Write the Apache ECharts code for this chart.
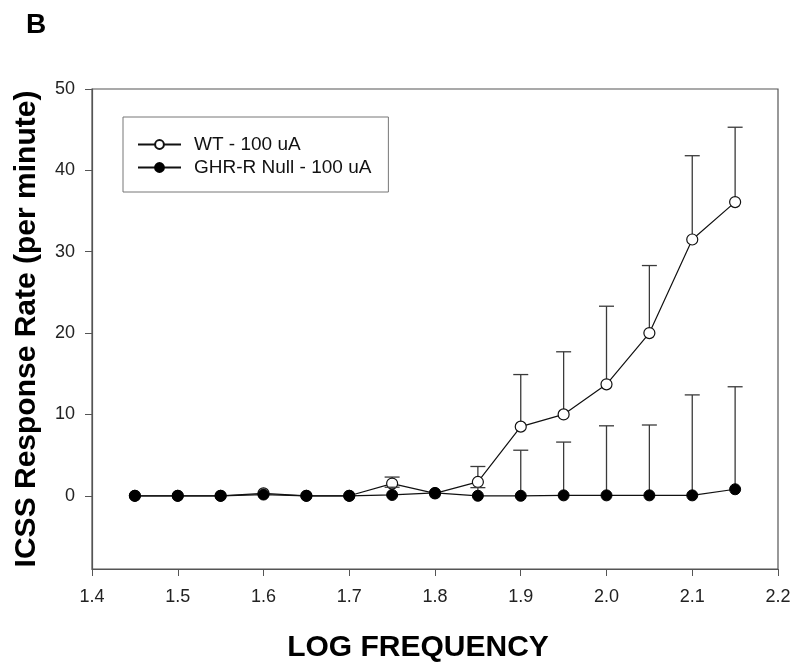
<!DOCTYPE html>
<html>
<head>
<meta charset="utf-8">
<script src="https://cdn.jsdelivr.net/npm/echarts@6/dist/echarts.min.js"></script>
<style>html,body{margin:0;padding:0;background:#fff}#c{width:800px;height:668px}</style>
</head>
<body>
<div id="c"></div>
<script>
// ---- data ----
const logFreq = [1.45, 1.50, 1.55, 1.60, 1.65, 1.70, 1.75, 1.80, 1.85, 1.90, 1.95, 2.00, 2.05, 2.10, 2.15];
const wtMean  = [0, 0, 0, 0.3, 0, 0, 1.5, 0.3, 1.7, 8.5, 10.0, 13.7, 20.0, 31.5, 36.1];
const wtUpper = [null, null, null, null, null, null, 2.3, null, 3.6, 14.9, 17.7, 23.3, 28.3, 41.8, 45.3];
const nullMean  = [0, 0, 0, 0.15, 0, 0, 0.1, 0.35, 0, 0, 0.05, 0.05, 0.05, 0.05, 0.8];
const nullUpper = [null, null, null, null, null, null, 1.05, null, 1.0, 5.6, 6.6, 8.6, 8.7, 12.4, 13.4];
const xTicks = [1.4, 1.5, 1.6, 1.7, 1.8, 1.9, 2.0, 2.1, 2.2];
const yTicks = [0, 10, 20, 30, 40, 50];
const seriesNames = ['WT - 100 uA', 'GHR-R Null - 100 uA'];

const pairs = (xs, ys) => xs.map((x, i) => [x, ys[i]]);
const errData = (xs, m, u) => xs.map((x, i) => [x, m[i], u[i]]).filter(d => d[2] != null);

function errRender(params, api) {
  const x = api.value(0), lo = api.value(1), hi = api.value(2);
  const p0 = api.coord([x, lo]), p1 = api.coord([x, hi]);
  const half = 7.5;
  const st = {stroke: '#3a3a3a', lineWidth: 1.3, fill: null};
  return {type: 'group', children: [
    {type: 'line', shape: {x1: p0[0], y1: p0[1], x2: p1[0], y2: p1[1]}, style: st},
    {type: 'line', shape: {x1: p1[0] - half, y1: p1[1], x2: p1[0] + half, y2: p1[1]}, style: st}
  ]};
}

const chart = echarts.init(document.getElementById('c'), null, {renderer: 'canvas'});
const font = 'Arial, "Liberation Sans", Helvetica, sans-serif';
chart.setOption({
  animation: false,
  backgroundColor: '#fff',
  textStyle: {fontFamily: font},
  title: {text: 'B', left: 21, top: 6, textStyle: {fontFamily: font, fontWeight: 'bold', fontSize: 28, color: '#000'}},
  grid: {left: 92, right: 22, top: 89, bottom: 99, show: true, borderColor: '#555', borderWidth: 1.2},
  legend: {
    orient: 'vertical', left: 123, top: 117,
    data: seriesNames,
    itemWidth: 43, itemHeight: 11, itemGap: 4,
    padding: [18, 17, 15, 14],
    borderColor: '#777', borderWidth: 1,
    textStyle: {fontFamily: font, fontSize: 19, color: '#111', padding: [0, 0, 0, 8]}
  },
  xAxis: {
    type: 'value', min: 1.4, max: 2.2, interval: 0.1,
    name: 'LOG FREQUENCY', nameLocation: 'middle', nameGap: 64,
    nameTextStyle: {fontFamily: font, fontWeight: 'bold', fontSize: 30, color: '#000', padding: [0, 34, 0, 0]},
    axisLine: {onZero: false, lineStyle: {color: '#555', width: 1.2}},
    axisTick: {inside: false, length: 7, lineStyle: {color: '#555'}},
    axisLabel: {fontSize: 18, color: '#222', margin: 19,
      formatter: v => { const t = xTicks.find(k => Math.abs(k - v) < 1e-6); return t != null ? t.toFixed(1) : ''; }},
    splitLine: {show: false}
  },
  yAxis: {
    type: 'value', min: -9, max: 50,
    name: 'ICSS Response Rate (per minute)', nameLocation: 'middle', nameGap: 50,
    nameTextStyle: {fontFamily: font, fontWeight: 'bold', fontSize: 30, color: '#000'},
    axisLine: {show: true, onZero: false, lineStyle: {color: '#555', width: 1.2}},
    axisTick: {show: true, inside: false, length: 7, lineStyle: {color: '#555'}, customValues: yTicks},
    axisLabel: {fontSize: 18, color: '#222', margin: 17, customValues: yTicks},
    splitLine: {show: false}
  },
  series: [
    {type: 'custom', name: 'wtErr', renderItem: errRender, data: errData(logFreq, wtMean, wtUpper), z: 2, silent: true},
    {type: 'line', name: seriesNames[0], data: pairs(logFreq, wtMean), symbol: 'circle', symbolSize: 11,
      lineStyle: {color: '#111', width: 1.2}, itemStyle: {color: '#fff', borderColor: '#111', borderWidth: 1.2}, z: 3},
    {type: 'custom', name: 'nullErr', renderItem: errRender, data: errData(logFreq, nullMean, nullUpper), z: 4, silent: true},
    {type: 'line', name: seriesNames[1], data: pairs(logFreq, nullMean), symbol: 'circle', symbolSize: 11,
      lineStyle: {color: '#111', width: 1.2}, itemStyle: {color: '#000', borderColor: '#000', borderWidth: 1}, z: 5}
  ]
});
</script>
</body>
</html>
